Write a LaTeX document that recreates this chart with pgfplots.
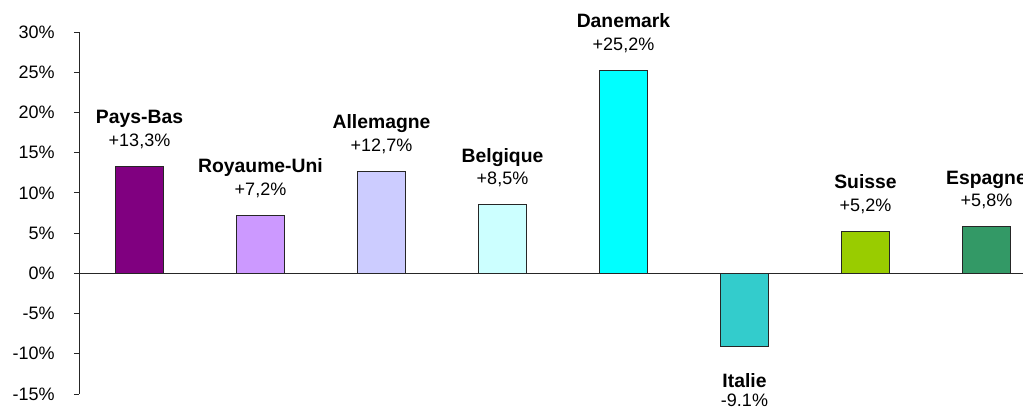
\documentclass[border=0pt]{standalone}
\usepackage{pgfplots}
\pgfplotsset{compat=1.18}
\usepackage{fontspec}
\setmainfont{Liberation Sans}
\definecolor{c1}{HTML}{800080}
\definecolor{c2}{HTML}{CC99FF}
\definecolor{c3}{HTML}{CCCCFF}
\definecolor{c4}{HTML}{CCFFFF}
\definecolor{c5}{HTML}{00FFFF}
\definecolor{c6}{HTML}{33CCCC}
\definecolor{c7}{HTML}{99CC00}
\definecolor{c8}{HTML}{339966}
\begin{document}
\begin{tikzpicture}
\begin{axis}[
  scale only axis, width=726pt, height=271.5pt,
  xmin=-0.5, xmax=7.5, ymin=-15, ymax=30,
  axis y line=left, axis x line=none,
  axis line style={-, black!85, line width=0.7pt},
  ytick={-15,-10,-5,0,5,10,15,20,25,30},
  yticklabels={-15\%,-10\%,-5\%,0\%,5\%,10\%,15\%,20\%,25\%,30\%},
  tick align=outside, major tick length=3.75pt,
  tick style={black!85, line width=0.7pt},
  y tick label style={font=\fontsize{13.5}{15}\selectfont, xshift=-11pt},
  ybar, bar width=36pt, bar shift=0pt, clip=false,
  every axis plot/.append style={draw=black!85, line width=0.7pt},
]
\addplot[fill=c1] coordinates {(0,13.3)};
\addplot[fill=c2] coordinates {(1,7.2)};
\addplot[fill=c3] coordinates {(2,12.7)};
\addplot[fill=c4] coordinates {(3,8.5)};
\addplot[fill=c5] coordinates {(4,25.2)};
\addplot[fill=c6] coordinates {(5,-9.1)};
\addplot[fill=c7] coordinates {(6,5.2)};
\addplot[fill=c8] coordinates {(7,5.8)};
\draw[black!85, line width=0.7pt] (axis cs:-0.5,0) -- (axis cs:7.5,0);
\tikzset{nm/.style={anchor=base, inner sep=0pt, font=\bfseries\fontsize{14.5}{17}\selectfont},
         vl/.style={anchor=base, inner sep=0pt, font=\fontsize{13.5}{16}\selectfont}}
\node[nm, yshift=32pt] at (axis cs:0,13.3) {Pays-Bas};
\node[vl, yshift=15pt] at (axis cs:0,13.3) {+13,3\%};
\node[nm, yshift=32pt] at (axis cs:1,7.2) {Royaume-Uni};
\node[vl, yshift=15pt] at (axis cs:1,7.2) {+7,2\%};
\node[nm, yshift=32pt] at (axis cs:2,12.7) {Allemagne};
\node[vl, yshift=15pt] at (axis cs:2,12.7) {+12,7\%};
\node[nm, yshift=32pt] at (axis cs:3,8.5) {Belgique};
\node[vl, yshift=15pt] at (axis cs:3,8.5) {+8,5\%};
\node[nm, yshift=32pt] at (axis cs:4,25.2) {Danemark};
\node[vl, yshift=15pt] at (axis cs:4,25.2) {+25,2\%};
\node[nm, yshift=-30.75pt] at (axis cs:5,-9.1) {Italie};
\node[vl, yshift=-45pt] at (axis cs:5,-9.1) {-9.1\%};
\node[nm, yshift=32pt] at (axis cs:6,5.2) {Suisse};
\node[vl, yshift=15pt] at (axis cs:6,5.2) {+5,2\%};
\node[nm, yshift=32pt] at (axis cs:7,5.8) {Espagne};
\node[vl, yshift=15pt] at (axis cs:7,5.8) {+5,8\%};
\end{axis}
\pgfresetboundingbox
\useasboundingbox (-59.25pt,-11.25pt) rectangle (708pt,295.5pt);
\end{tikzpicture}
\end{document}
